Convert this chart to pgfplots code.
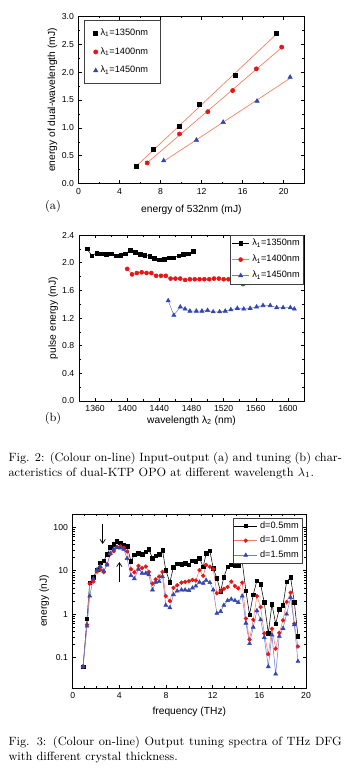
\documentclass[border=0pt]{standalone}
\usepackage{fontspec}
\setsansfont{Liberation Sans}
\usepackage{pgfplots}
\usepackage{pgfplotstable}
\pgfplotsset{compat=1.18}
\usetikzlibrary{arrows.meta}

\definecolor{fitor}{RGB}{245,125,95}
\definecolor{mred}{RGB}{235,20,20}
\definecolor{lred}{RGB}{250,120,100}
\definecolor{mblue}{RGB}{50,70,175}
\definecolor{lblue}{RGB}{110,125,215}

% ---------- Fig 2(a) ----------
\pgfplotstableread{
x y
5.66 0.31
7.33 0.61
9.86 1.03
11.73 1.42
15.32 1.95
19.30 2.70
}\aBlack
\pgfplotstableread{
x y
6.69 0.37
9.84 0.89
12.60 1.29
15.02 1.67
17.33 2.06
19.80 2.45
}\aRed
\pgfplotstableread{
x y
8.30 0.41
11.49 0.78
14.10 1.10
17.40 1.48
20.62 1.91
}\aBlue

% ---------- Fig 2(b) ----------
\pgfplotstableread{
x y
1350 2.20
1356 2.10
1362 2.14
1368 2.13
1374 2.12
1380 2.13
1386 2.10
1392 2.11
1398 2.13
1404 2.18
1410 2.15
1416 2.12
1422 2.11
1428 2.09
1434 2.06
1440 2.04
1446 2.05
1452 2.07
1458 2.07
1464 2.10
1470 2.12
1476 2.13
1482 2.16
}\bBlack
\pgfplotstableread{
x y
1400 1.91
1406 1.83
1412 1.85
1418 1.86
1424 1.85
1430 1.85
1436 1.81
1442 1.81
1448 1.81
1454 1.77
1460 1.77
1466 1.77
1472 1.75
1478 1.76
1484 1.76
1490 1.76
1496 1.76
1502 1.76
1508 1.77
1514 1.77
1520 1.76
1526 1.76
1532 1.76
1538 1.72
1544 1.69
}\bRed
\pgfplotstableread{
x y
1451 1.45
1458 1.24
1466 1.36
1472 1.33
1478 1.30
1486 1.30
1493 1.30
1500 1.31
1507 1.29
1515 1.29
1522 1.30
1529 1.32
1537 1.34
1545 1.33
1553 1.34
1561 1.36
1569 1.38
1578 1.38
1586 1.35
1594 1.35
1603 1.35
1608 1.33
}\bBlue

% ---------- Fig 3 ----------
\pgfplotstableread{
x a b c
0.89 0.062 0.062 0.062
1.23 0.78 0.57 0.53
1.46 5.2 5.0 2.6
1.77 7.0 5.6 6.5
2.09 10.5 9.5 10.5
2.37 15.0 10.5 12.5
2.66 16.6 9.2 9.8
2.95 23.5 14 13.5
3.23 34 24 25
3.52 40 28 31
3.80 47.5 35 34
4.09 43 36 33
4.38 38.5 33.5 31
4.66 36 27.5 19
5.00 16.4 10.8 7.7
5.29 23.3 9.1 6.5
5.64 25 12.8 10.8
5.95 24 11.4 8.7
6.27 26.8 12.4 8.7
6.52 31 9.3 8.0
6.84 19.3 5.0 3.6
7.12 22 6.3 5.4
7.41 24 7.3 5.6
7.70 29.5 9.3 7.3
7.98 10.2 2.6 1.6
8.33 5.4 2.0 1.4
8.64 12 4.0 2.8
8.96 14.5 4.6 3.4
9.33 14 5.3 3.6
9.64 14.8 5.5 3.6
9.96 13.7 5.7 3.5
10.27 17 6.1 4.0
10.56 16.3 5.9 4.4
10.87 19.4 10.3 5.4
11.19 12.1 7.6 5.1
11.44 25 13.5 6.0
11.76 28.6 12.3 5.3
12.05 11.2 10.8 3.6
12.36 6.6 3.0 1.04
12.68 3.33 3.4 1.15
12.96 7.1 3.8 1.6
13.28 12.3 4.2 2.05
13.59 13.7 5.6 2.2
13.91 13.2 4.4 2.05
14.19 13.2 3.9 1.85
14.53 16.4 5.3 2.6
14.85 3.4 0.79 0.62
15.16 0.97 0.26 0.21
15.48 2.8 0.74 0.5
15.79 5.9 2.6 1.2
16.11 4.8 1.45 0.74
16.42 1.85 0.36 0.29
16.77 0.36 0.12 0.062
17.08 1.7 0.46 0.33
17.40 0.6 0.16 0.042
17.71 1.3 0.37 0.31
18.03 1.6 0.72 0.47
18.34 5.6 1.9 1.0
18.68 7.0 3.1 2.4
19.00 1.85 0.6 0.57
19.31 0.31 0.18 0.082
}\cData

\pgfplotsset{
  rs/.style={
    scale only axis, anchor=south west,
    axis line style={line width=0.5pt},
    tick align=inside,
    major tick length=2.6pt, minor tick length=1.4pt,
    every tick/.style={black, line width=0.4pt},
    tick label style={font=\sffamily\fontsize{6.5}{7}\selectfont},
    label style={font=\sffamily\fontsize{7.7}{9}\selectfont},
    /pgf/number format/assume math mode=true,
    /pgf/number format/1000 sep={},
    legend cell align=left,
    legend style={font=\sffamily\fontsize{6.9}{8}\selectfont, draw=black!75, line width=0.4pt},
  },
  lgline/.style={legend image code/.code={%
    \draw[mark repeat=2,mark phase=2,##1] plot coordinates {(0pt,0pt) (#1/2,0pt) (#1,0pt)};}},
}

\begin{document}
\begin{tikzpicture}[x=1pt,y=1pt]
\useasboundingbox (0,0) rectangle (269.25,582.75);

% ================= Fig 2(a) =================
\begin{axis}[rs, at={(58.9pt,445.1pt)}, width=169.3pt, height=125.25pt,
  xmin=0, xmax=22, ymin=0, ymax=3,
  xtick={0,4,...,20}, minor x tick num=1,
  ytick={0,0.5,...,3}, minor y tick num=1,
  yticklabel style={/pgf/number format/.cd, fixed, fixed zerofill, precision=1},
  xlabel={energy of 532nm (mJ)},
  ylabel={energy of dual-wavelength (mJ)},
  xlabel style={at={(axis description cs:0.5,-0.155)}, anchor=center},
  ylabel style={at={(axis description cs:-0.115,0.5)}, anchor=center},
  legend style={at={(0.024,0.979)}, anchor=north west, inner xsep=7pt, inner ysep=4.5pt, row sep=3.5pt},
]
\addplot[fitor, line width=0.5pt, forget plot] table[y={create col/linear regression={y=y}}] {\aBlack};
\addplot[fitor, line width=0.5pt, forget plot] table[y={create col/linear regression={y=y}}] {\aRed};
\addplot[fitor, line width=0.5pt, forget plot] table[y={create col/linear regression={y=y}}] {\aBlue};
\addplot[only marks, mark=square*, mark size=1.5pt, black] table {\aBlack};
\addlegendentry{λ\textsubscript{1}=1350nm}
\addplot[only marks, mark=*, mark size=1.6pt, mred] table {\aRed};
\addlegendentry{λ\textsubscript{1}=1400nm}
\addplot[only marks, mark=triangle*, mark size=1.9pt, mblue] table {\aBlue};
\addlegendentry{λ\textsubscript{1}=1450nm}
\end{axis}
\node[font=\fontsize{9}{11}\selectfont] at (39.75,427.5) {(a)};

% ================= Fig 2(b) =================
\begin{axis}[rs, at={(59.25pt,282pt)}, width=168.75pt, height=124.5pt,
  xmin=1340, xmax=1620, ymin=0, ymax=2.4,
  xtick={1360,1400,...,1600}, minor x tick num=1,
  ytick={0,0.4,...,2.4}, minor y tick num=1,
  yticklabel style={/pgf/number format/.cd, fixed, fixed zerofill, precision=1},
  xlabel={wavelength λ\textsubscript{2} (nm)},
  ylabel={pulse energy (mJ)},
  xlabel style={at={(axis description cs:0.5,-0.12)}, anchor=center},
  ylabel style={at={(axis description cs:-0.115,0.5)}, anchor=center},
  legend style={at={(1,1)}, anchor=north east, inner xsep=1pt, inner ysep=1pt, row sep=1.5pt},
  lgline=13pt,
]
\addplot[black, line width=0.4pt, mark=square*, mark size=1.4pt, mark options={black}] table {\bBlack};
\addlegendentry{λ\textsubscript{1}=1350nm}
\addplot[lred, line width=0.4pt, mark=*, mark size=1.5pt, mark options={mred, draw=mred}] table {\bRed};
\addlegendentry{λ\textsubscript{1}=1400nm}
\addplot[lblue, line width=0.4pt, mark=triangle*, mark size=1.8pt, mark options={mblue, draw=mblue}] table {\bBlue};
\addlegendentry{λ\textsubscript{1}=1450nm}
\end{axis}
\node[font=\fontsize{9}{11}\selectfont] at (39.75,268.5) {(b)};

% captions of Fig 2
\node[anchor=base west, inner sep=0, font=\fontsize{9}{11}\selectfont] at (6.2,236.6)
  {\makebox[250pt][s]{Fig. 2: (Colour on-line) Input-output (a) and tuning (b) char-}};
\node[anchor=base west, inner sep=0, font=\fontsize{9}{11}\selectfont] at (6.2,225.4)
  {acteristics of dual-KTP OPO at different wavelength $\lambda_1$.};

% ================= Fig 3 =================
\begin{axis}[rs, at={(54.5pt,66.75pt)}, width=175pt, height=130.5pt,
  xmin=0, xmax=20, ymode=log, ymin=0.02, ymax=200,
  xtick={0,4,...,20}, minor x tick num=3,
  ytick={0.1,1,10,100}, yticklabels={0.1,1,10,100},
  xlabel={frequency (THz)},
  ylabel={energy (nJ)},
  xlabel style={at={(axis description cs:0.5,-0.136)}, anchor=center},
  ylabel style={at={(axis description cs:-0.122,0.5)}, anchor=center},
  legend style={at={(0.987,0.977)}, anchor=north east, inner xsep=1pt, inner ysep=0.5pt, row sep=0.5pt},
]
\addplot[black, line width=0.4pt, mark=square*, mark size=1.3pt, mark options={black}] table[x=x, y=a] {\cData};
\addlegendentry{d=0.5mm}
\addplot[lred, line width=0.4pt, mark=*, mark size=1.4pt, mark options={mred, draw=mred}] table[x=x, y=b] {\cData};
\addlegendentry{d=1.0mm}
\addplot[lblue, line width=0.4pt, mark=triangle*, mark size=1.7pt, mark options={mblue, draw=mblue}] table[x=x, y=c] {\cData};
\addlegendentry{d=1.5mm}
\draw[line width=0.5pt, -{Straight Barb[length=3pt, width=4pt]}] (axis cs:2.57,119) -- (axis cs:2.57,41);
\draw[line width=0.5pt, -{Straight Barb[length=3pt, width=4pt]}] (axis cs:4.0,5.4) -- (axis cs:4.0,15.7);
\end{axis}

% caption of Fig 3
\node[anchor=base west, inner sep=0, font=\fontsize{9}{11}\selectfont] at (6.2,23.6)
  {\makebox[250pt][s]{Fig. 3: (Colour on-line) Output tuning spectra of THz DFG}};
\node[anchor=base west, inner sep=0, font=\fontsize{9}{11}\selectfont] at (6.2,12.4)
  {with different crystal thickness.};
\end{tikzpicture}
\end{document}
